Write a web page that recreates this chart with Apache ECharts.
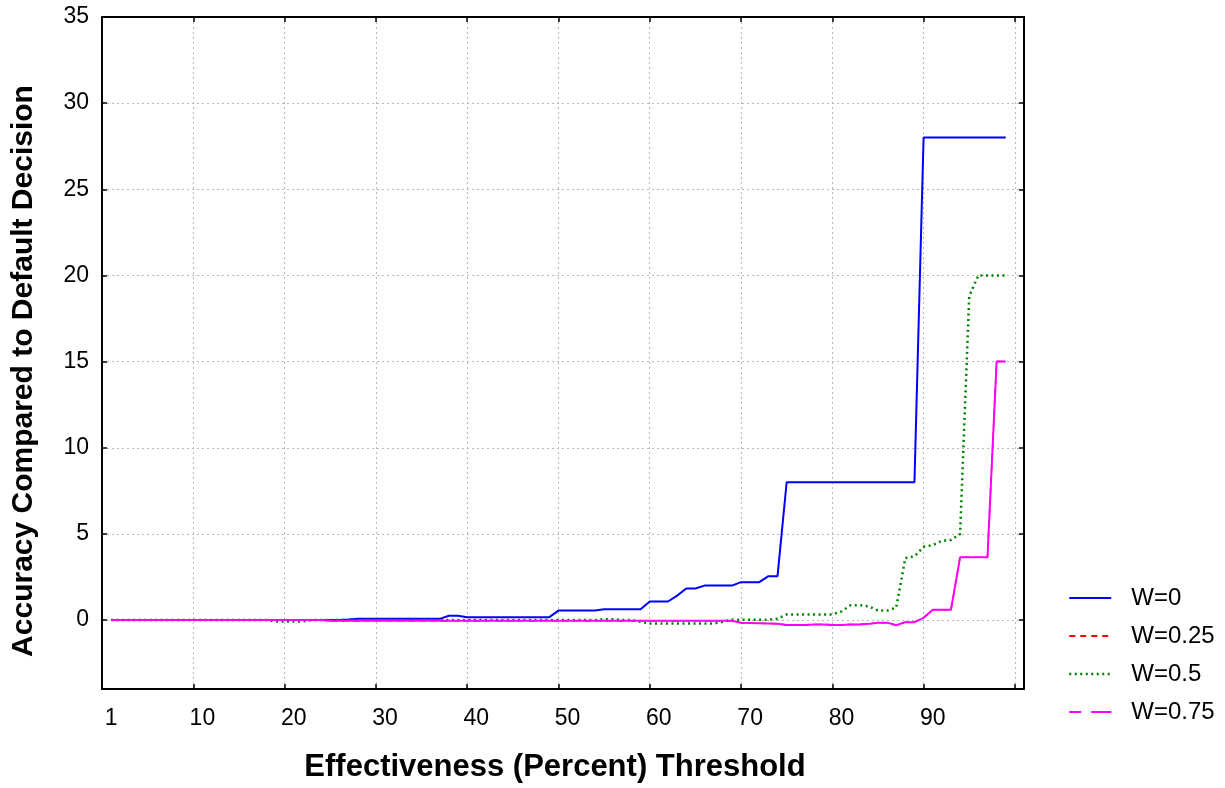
<!DOCTYPE html>
<html><head><meta charset="utf-8">
<script src="https://cdn.jsdelivr.net/npm/echarts@6/dist/echarts.min.js"></script>
<style>html,body{margin:0;padding:0;background:#fff}#c{width:1225px;height:788px}</style>
</head><body><div id="c"></div>
<script>
const thresholds = [1,2,3,4,5,6,7,8,9,10,11,12,13,14,15,16,17,18,19,20,21,22,23,24,25,26,27,28,29,30,31,32,33,34,35,36,37,38,39,40,41,42,43,44,45,46,47,48,49,50,51,52,53,54,55,56,57,58,59,60,61,62,63,64,65,66,67,68,69,70,71,72,73,74,75,76,77,78,79,80,81,82,83,84,85,86,87,88,89,90,91,92,93,94,95,96,97,98,99];

const w0 = [0,0,0,0,0,0,0,0,0,0, 0,0,0,0,0,0,0,0,0,0, 0,0,0,0,0,0,0.03,0.07,0.07,0.07, 0.07,0.07,0.07,0.07,0.07,0.07,0.07,0.25,0.25,0.17, 0.17,0.17,0.17,0.17,0.17,0.17,0.17,0.17,0.17,0.55, 0.55,0.55,0.55,0.55,0.63,0.63,0.63,0.63,0.63,1.08, 1.08,1.08,1.42,1.83,1.83,2.0,2.0,2.0,2.0,2.2, 2.2,2.2,2.55,2.55,8,8,8,8,8,8, 8,8,8,8,8,8,8,8,8,28, 28,28,28,28,28,28,28,28,28];

const w025 = [0,0,0,0,0,0,0,0,0,0, 0,0,0,0,0,0,0,0,0,0, 0,0,0,0,-0.04,-0.04,-0.04,-0.04,-0.04,-0.04, -0.04,-0.04,-0.04,-0.04,-0.04,-0.04,-0.04,-0.04,-0.04,-0.04, -0.04,-0.04,-0.04,-0.04,-0.04,-0.04,-0.04,-0.04,-0.04,-0.04, -0.04,-0.04,-0.04,-0.04,-0.04,-0.04,-0.04,-0.04,-0.04,-0.04, -0.04,-0.04,-0.04,-0.04,-0.04,-0.04,-0.04,-0.04,-0.04,-0.15, -0.17,-0.18,-0.2,-0.22,-0.28,-0.28,-0.28,-0.25,-0.25,-0.28, -0.28,-0.25,-0.25,-0.22,-0.15,-0.15,-0.3,-0.12,-0.12,0.13, 0.6,0.6,0.6,3.65,3.65,3.65,3.65,15,15];

const w05 = [0,0,0,0,0,0,0,0,0,0, 0,0,0,0,0,0,0,0,-0.08,-0.08, -0.08,-0.08,0,0,0,0,0,0,0,0, 0,0,0,0,0,0,0,0,0,0, 0,0,0,0,0,0,0,0,0,0, 0,0,0,0,0.05,0.05,0,0,-0.1,-0.2, -0.2,-0.2,-0.2,-0.2,-0.2,-0.2,-0.2,-0.1,0.02,0.02, 0.02,0.02,0.02,0.08,0.33,0.33,0.33,0.33,0.33,0.33, 0.5,0.86,0.86,0.8,0.55,0.55,0.72,3.6,3.7,4.25, 4.35,4.6,4.65,5.0,18.8,20,20,20,20];

const w075 = [0,0,0,0,0,0,0,0,0,0, 0,0,0,0,0,0,0,0,0,0, 0,0,0,0,-0.04,-0.04,-0.04,-0.04,-0.04,-0.04, -0.04,-0.04,-0.04,-0.04,-0.04,-0.04,-0.04,-0.04,-0.04,-0.04, -0.04,-0.04,-0.04,-0.04,-0.04,-0.04,-0.04,-0.04,-0.04,-0.04, -0.04,-0.04,-0.04,-0.04,-0.04,-0.04,-0.04,-0.04,-0.04,-0.04, -0.04,-0.04,-0.04,-0.04,-0.04,-0.04,-0.04,-0.04,-0.04,-0.15, -0.17,-0.18,-0.2,-0.22,-0.28,-0.28,-0.28,-0.25,-0.25,-0.28, -0.28,-0.25,-0.25,-0.22,-0.15,-0.15,-0.3,-0.12,-0.12,0.13, 0.6,0.6,0.6,3.65,3.65,3.65,3.65,15,15];

const seriesNames = ['W=0','W=0.25','W=0.5','W=0.75'];
const xTickValues = [10,20,30,40,50,60,70,80,90,100];
const xLabelValues = [1,11,21,31,41,51,61,71,81,91];
const xLabelTexts = ['1','10','20','30','40','50','60','70','80','90'];
const yTickValues = [0,5,10,15,20,25,30,35];
const yTickLabels = ['0','5','10','15','20','25','30','35'];

const FONT = 'Liberation Sans, Arial, sans-serif';
const pair = arr => thresholds.map((x, i) => [x, arr[i]]);

const axisLineStyle = { show: true, onZero: false, lineStyle: { color: '#000', width: 2 } };
const tickStyle = { show: true, inside: true, length: 5, lineStyle: { color: '#000', width: 1.5 } };
const gridLine = { show: true, lineStyle: { color: '#b8b8b8', width: 1, type: [2, 3] } };

const chart = echarts.init(document.getElementById('c'), null, { renderer: 'canvas' });
chart.setOption({
  animation: false,
  backgroundColor: '#fff',
  grid: { left: 102, right: 201, top: 17, bottom: 95, containLabel: false },
  xAxis: [
    {
      type: 'value', position: 'bottom', min: 0, max: 101,
      name: 'Effectiveness (Percent) Threshold', nameLocation: 'middle', nameGap: 63,
      nameTextStyle: { fontFamily: FONT, fontSize: 31, fontWeight: 'bold', color: '#000', padding: [0, 16, 0, 0] },
      axisLine: axisLineStyle,
      axisTick: Object.assign({ customValues: xTickValues }, tickStyle),
      axisLabel: {
        customValues: xLabelValues, margin: 18,
        fontFamily: FONT, fontSize: 23, color: '#000',
        formatter: v => xLabelTexts[xLabelValues.indexOf(v)]
      },
      splitLine: gridLine
    },
    {
      type: 'value', position: 'top', min: 0, max: 101,
      axisLine: axisLineStyle,
      axisTick: Object.assign({ customValues: xTickValues }, tickStyle),
      axisLabel: { show: false },
      splitLine: { show: false }
    }
  ],
  yAxis: [
    {
      type: 'value', position: 'left', min: -4, max: 35,
      name: 'Accuracy Compared to Default Decision', nameLocation: 'middle', nameGap: 63,
      nameTextStyle: { fontFamily: FONT, fontSize: 30, fontWeight: 'bold', color: '#000', padding: [0, 36, 0, 0] },
      axisLine: axisLineStyle,
      axisTick: Object.assign({ customValues: yTickValues }, tickStyle),
      axisLabel: {
        customValues: yTickValues, margin: 13,
        fontFamily: FONT, fontSize: 23, color: '#000',
        formatter: v => yTickLabels[yTickValues.indexOf(v)]
      },
      splitLine: gridLine
    },
    {
      type: 'value', position: 'right', min: -4, max: 35,
      axisLine: axisLineStyle,
      axisTick: Object.assign({ customValues: yTickValues }, tickStyle),
      axisLabel: { show: false },
      splitLine: { show: false }
    }
  ],
  legend: {
    orient: 'vertical', left: 1068, top: 586, padding: 0,
    itemWidth: 42, itemHeight: 14, itemGap: 14,
    itemStyle: { opacity: 0 },
    textStyle: { fontFamily: FONT, fontSize: 24, color: '#000', lineHeight: 24, padding: [0, 0, 0, 15] },
    data: [
      { name: seriesNames[0], lineStyle: { type: 'solid', width: 2 } },
      { name: seriesNames[1], lineStyle: { type: [6, 5], width: 2 } },
      { name: seriesNames[2], lineStyle: { type: [2, 3.5], width: 2.5 } },
      { name: seriesNames[3], lineStyle: { type: [12, 10, 20, 10], width: 2 } }
    ]
  },
  series: [
    { name: seriesNames[0], type: 'line', data: pair(w0), symbol: 'none', color: '#0000ff',
      lineStyle: { color: '#0000ff', width: 2 } },
    { name: seriesNames[1], type: 'line', data: pair(w025), symbol: 'none', color: '#ff0000',
      lineStyle: { color: '#ff0000', width: 1.5, type: [6, 5] } },
    { name: seriesNames[2], type: 'line', data: pair(w05), symbol: 'none', color: '#008000',
      lineStyle: { color: '#008000', width: 2.5, type: [2, 3.5] } },
    { name: seriesNames[3], type: 'line', data: pair(w075), symbol: 'none', color: '#ff00ff',
      lineStyle: { color: '#ff00ff', width: 2 } }
  ]
});
</script>
</body></html>
